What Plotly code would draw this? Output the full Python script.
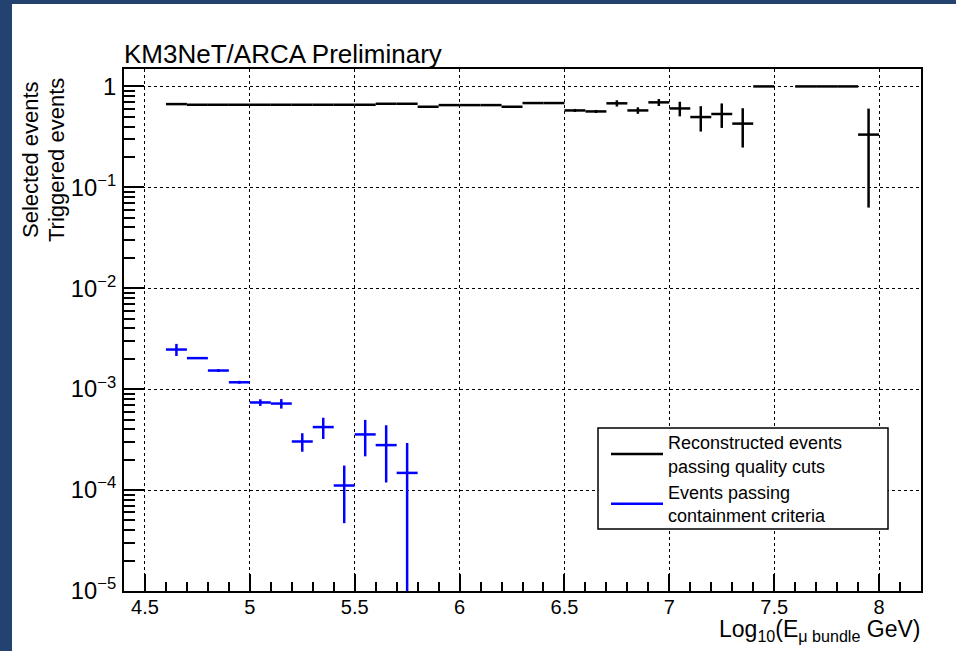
import plotly.graph_objects as go

# Bin centres (bin width 0.1 in log10 E)
reco_x = [4.65, 4.75, 4.85, 4.95, 5.05, 5.15, 5.25, 5.35, 5.45, 5.55,
          5.65, 5.75, 5.85, 5.95, 6.05, 6.15, 6.25, 6.35, 6.45, 6.55,
          6.65, 6.75, 6.85, 6.95, 7.05, 7.15, 7.25, 7.35, 7.45, 7.65,
          7.75, 7.85, 7.95]
reco_y = [0.668, 0.658, 0.658, 0.658, 0.658, 0.658, 0.658, 0.658, 0.658, 0.658,
          0.673, 0.673, 0.629, 0.653, 0.653, 0.653, 0.629, 0.684, 0.684, 0.578,
          0.565, 0.680, 0.578, 0.695, 0.605, 0.497, 0.533, 0.428, 1.0, 1.0,
          1.0, 1.0, 0.333]
reco_err = [0.005, 0.005, 0.005, 0.005, 0.005, 0.005, 0.005, 0.005, 0.005, 0.005,
            0.006, 0.006, 0.008, 0.008, 0.008, 0.009, 0.010, 0.012, 0.012, 0.020,
            0.020, 0.048, 0.043, 0.055, 0.100, 0.140, 0.145, 0.180, 0.0, 0.0,
            0.0, 0.0, 0.270]

cont_x = [4.65, 4.75, 4.85, 4.95, 5.05, 5.15, 5.25, 5.35, 5.45, 5.55, 5.65, 5.75]
cont_y = [2.47e-3, 2.03e-3, 1.53e-3, 1.17e-3, 7.38e-4, 7.2e-4,
          3.03e-4, 4.21e-4, 1.11e-4, 3.56e-4, 2.79e-4, 1.48e-4]
cont_err = [0.34e-3, 0.02e-3, 0.05e-3, 0.04e-3, 0.56e-4, 0.78e-4,
            0.63e-4, 1.0e-4, 0.64e-4, 1.4e-4, 1.6e-4, 1.45e-4]

half_bin = 0.05
x_ticks = [4.5, 5, 5.5, 6, 6.5, 7, 7.5, 8]

NAVY = "#23426f"
BLUE = "#0000ff"
FONT = "Liberation Sans"

# plot-area geometry in pixels (used to convert to paper coordinates)
W, H = 956, 651
L, R, T, B = 124, 35, 69, 60
PW, PH = W - L - R, H - T - B


def px(xp):
    return (xp - L) / PW


def py(yp):
    return (H - B - yp) / PH


fig = go.Figure()


def hist_trace(x, y, err, color):
    return go.Scatter(
        x=x, y=y, mode="markers",
        marker=dict(size=1, color=color),
        error_x=dict(type="constant", value=half_bin, color=color,
                     thickness=2.5, width=0),
        error_y=dict(type="data", array=err, color=color,
                     thickness=2.5, width=0),
        showlegend=False, hoverinfo="x+y",
    )


fig.add_trace(hist_trace(reco_x, reco_y, reco_err, "black"))
fig.add_trace(hist_trace(cont_x, cont_y, cont_err, BLUE))

# legend entries
fig.add_trace(go.Scatter(x=[None], y=[None], mode="lines",
                         line=dict(color="black", width=2.5),
                         name="Reconstructed events<br>passing quality cuts"))
fig.add_trace(go.Scatter(x=[None], y=[None], mode="lines",
                         line=dict(color=BLUE, width=2.5),
                         name="Events passing<br>containment criteria"))

shapes = [
    # navy border strips
    dict(type="rect", xref="paper", yref="paper", x0=px(0), x1=px(12),
         y0=py(H), y1=py(0), fillcolor=NAVY, line=dict(width=0), layer="below"),
    dict(type="rect", xref="paper", yref="paper", x0=px(0), x1=px(W),
         y0=py(4), y1=py(0), fillcolor=NAVY, line=dict(width=0), layer="below"),
    # legend box
    dict(type="rect", xref="paper", yref="paper", x0=px(598), x1=px(888),
         y0=py(529), y1=py(428), fillcolor="white",
         line=dict(color="black", width=1.5), layer="above"),
]

annotations = [
    dict(text="KM3NeT/ARCA Preliminary", xref="paper", yref="paper",
         x=px(122), y=py(54), xanchor="left", yanchor="middle",
         showarrow=False, font=dict(family=FONT, size=26, color="black")),
    dict(text="Selected events", xref="paper", yref="paper",
         x=px(30), y=py(160), xanchor="center", yanchor="middle",
         textangle=-90, showarrow=False,
         font=dict(family=FONT, size=22, color="black")),
    dict(text="Triggered events", xref="paper", yref="paper",
         x=px(56), y=py(160), xanchor="center", yanchor="middle",
         textangle=-90, showarrow=False,
         font=dict(family=FONT, size=22, color="black")),
    dict(text="Log<sub>10</sub>(E<sub>μ bundle</sub> GeV)", xref="paper",
         yref="paper", x=px(922), y=py(630), xanchor="right",
         yanchor="middle", showarrow=False,
         font=dict(family=FONT, size=23, color="black")),
]

fig.update_layout(
    width=W, height=H,
    margin=dict(l=L, r=R, t=T, b=B, pad=0),
    paper_bgcolor="white", plot_bgcolor="white",
    font=dict(family=FONT, size=20, color="black"),
    shapes=shapes, annotations=annotations,
    legend=dict(x=px(606), y=py(424), xanchor="left", yanchor="top",
                bgcolor="rgba(0,0,0,0)", borderwidth=0,
                font=dict(family=FONT, size=18, color="black"),
                itemwidth=52, tracegroupgap=6),
)

fig.update_xaxes(
    range=[4.4, 8.2], tickvals=x_ticks, ticktext=[f"{v:g}" for v in x_ticks],
    ticks="inside", ticklen=17, tickwidth=1.5, tickcolor="black",
    minor=dict(dtick=0.1, ticks="inside", ticklen=9, tickwidth=1.5,
               tickcolor="black", showgrid=False),
    showgrid=True, gridcolor="black", griddash="dot", gridwidth=1,
    showline=True, linecolor="black", linewidth=2, mirror=True,
    zeroline=False, tickfont=dict(size=20), ticklabelstandoff=-3,
)

fig.update_yaxes(
    type="log", range=[-5, 0.1726], dtick=1, exponentformat="power",
    ticks="inside", ticklen=20, tickwidth=1.5, tickcolor="black",
    minor=dict(dtick="D1", ticks="inside", ticklen=11, tickwidth=1.5,
               tickcolor="black", showgrid=False),
    showgrid=True, gridcolor="black", griddash="dot", gridwidth=1,
    showline=True, linecolor="black", linewidth=2, mirror=True,
    zeroline=False, tickfont=dict(size=19), ticklabelstandoff=2,
)

fig.write_html("out.html")
